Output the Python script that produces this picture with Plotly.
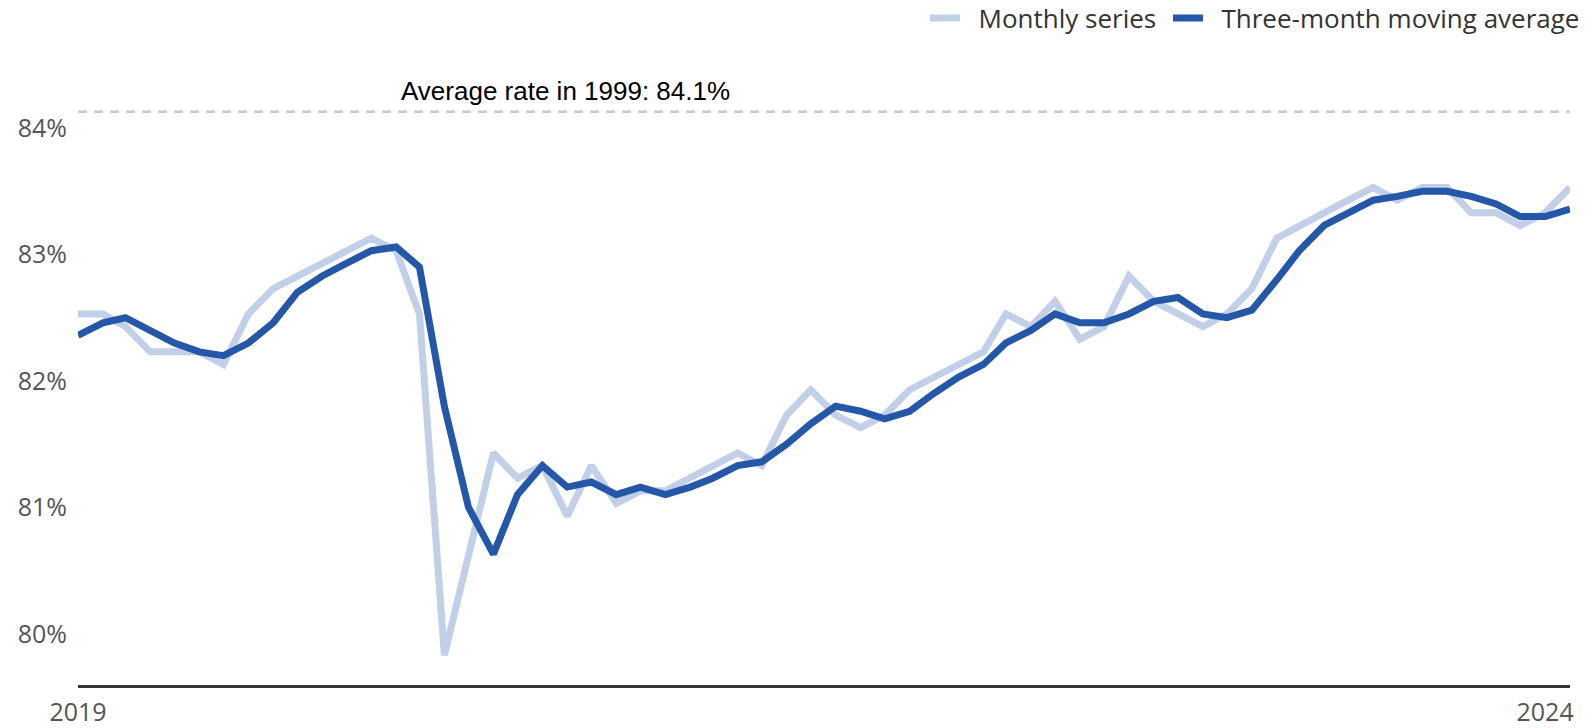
import pandas as pd
import plotly.graph_objects as go

# monthly observations, Jan 2019 .. Feb 2024 (%)
months = pd.date_range("2019-01-01", "2024-02-01", freq="MS")

monthly = [
    82.5, 82.5, 82.4, 82.2, 82.2, 82.2, 82.1, 82.5, 82.7, 82.8,
    82.9, 83.0, 83.1, 83.0, 82.5, 79.8, 80.6, 81.4, 81.2, 81.3,
    80.9, 81.3, 81.0, 81.1, 81.1, 81.2, 81.3, 81.4, 81.3, 81.7,
    81.9, 81.7, 81.6, 81.7, 81.9, 82.0, 82.1, 82.2, 82.5, 82.4,
    82.6, 82.3, 82.4, 82.8, 82.6, 82.5, 82.4, 82.5, 82.7, 83.1,
    83.2, 83.3, 83.4, 83.5, 83.4, 83.5, 83.5, 83.3, 83.3, 83.2,
    83.3, 83.5,
]

moving_avg = [
    82.33, 82.43, 82.47, 82.37, 82.27, 82.2, 82.17, 82.27, 82.43, 82.67,
    82.8, 82.9, 83.0, 83.03, 82.87, 81.77, 80.97, 80.6, 81.07, 81.3,
    81.13, 81.17, 81.07, 81.13, 81.07, 81.13, 81.2, 81.3, 81.33, 81.47,
    81.63, 81.77, 81.73, 81.67, 81.73, 81.87, 82.0, 82.1, 82.27, 82.37,
    82.5, 82.43, 82.43, 82.5, 82.6, 82.63, 82.5, 82.47, 82.53, 82.77,
    83.0, 83.2, 83.3, 83.4, 83.43, 83.47, 83.47, 83.43, 83.37, 83.27,
    83.27, 83.33,
]

avg_1999 = 84.1
y_ticks = [80, 81, 82, 83, 84]
x_ticks = ["2019-01-01", "2024-01-01"]
x_ticktext = ["2019", "2024"]

LIGHT = "#c1d0e8"
DARK = "#2457a7"
FONT = "Open Sans, Noto Sans, sans-serif"
NBSP = "\u00a0"

fig = go.Figure()

fig.add_trace(go.Scatter(
    x=months, y=monthly,
    mode="lines",
    name=NBSP * 2 + "Monthly series" + NBSP,
    line=dict(color=LIGHT, width=7),
    hoverinfo="skip",
))

fig.add_trace(go.Scatter(
    x=months, y=moving_avg,
    mode="lines",
    name=NBSP * 2 + "Three-month moving average",
    line=dict(color=DARK, width=7),
    hoverinfo="skip",
))

# reference line for the 1999 average
fig.add_shape(
    type="line", xref="paper", x0=0, x1=1,
    yref="y", y0=avg_1999, y1=avg_1999,
    line=dict(color="#c8c8c8", width=2.5, dash="9px,7px"),
    layer="below",
)
fig.add_annotation(
    xref="paper", x=0.327, yref="y", y=avg_1999,
    xanchor="center", yanchor="bottom", yshift=4,
    text=f"Average rate in 1999: {avg_1999}%",
    showarrow=False,
    font=dict(family="Liberation Sans, Arial, sans-serif", size=26, color="#000000"),
)

fig.update_layout(
    width=1585, height=728,
    margin=dict(l=78, r=15, t=70, b=43),
    plot_bgcolor="white",
    paper_bgcolor="white",
    font=dict(family=FONT, size=25, color="#555555"),
    showlegend=True,
    legend=dict(
        orientation="h",
        xref="paper", xanchor="right", x=1.012,
        yref="container", yanchor="middle", y=0.975,
        font=dict(family=FONT, size=26, color="#333333"),
        bgcolor="rgba(0,0,0,0)",
    ),
    xaxis=dict(
        range=[months[0], months[-1]],
        tickvals=x_ticks, ticktext=x_ticktext,
        showgrid=False, zeroline=False,
        showline=True, linecolor="#333333", linewidth=3,
        ticks="", ticklabelstandoff=3, automargin=False,
    ),
    yaxis=dict(
        range=[79.564, 84.43],
        tickvals=y_ticks,
        ticktext=[f"{v}%" for v in y_ticks],
        showgrid=False, zeroline=False, showline=False,
        ticks="", ticklabelstandoff=10, ticklabelshift=4,
        automargin=False,
    ),
)

fig.write_html(
    "out.html",
    config={"displayModeBar": False},
    post_script="document.body.style.margin='0';",
)
